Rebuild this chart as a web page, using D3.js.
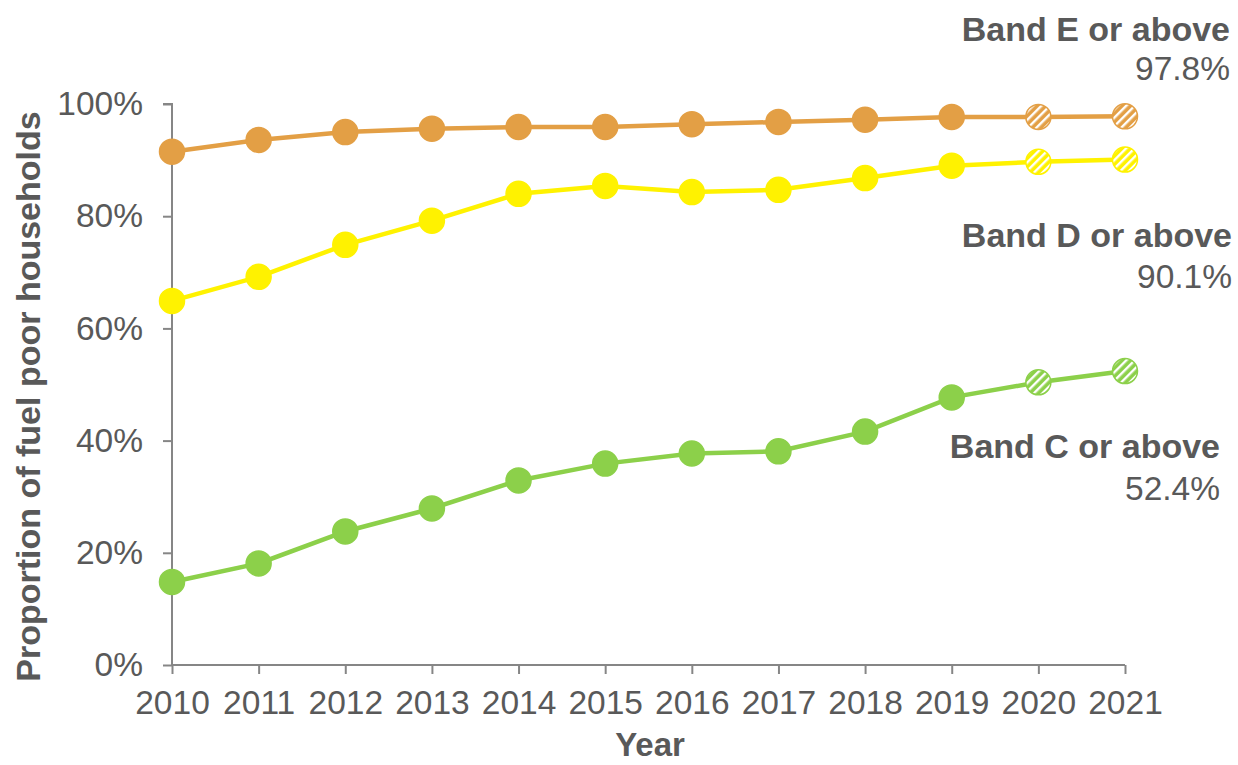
<!DOCTYPE html>
<html>
<head>
<meta charset="utf-8">
<script src="https://cdn.jsdelivr.net/npm/d3@7"></script>
<style>
  body { margin: 0; background: #fff; }
  svg { display: block; font-family: "Liberation Sans", Arial, sans-serif; }
</style>
</head>
<body>
<svg id="chart" width="1238" height="765"></svg>
<script>
const years = [2010, 2011, 2012, 2013, 2014, 2015, 2016, 2017, 2018, 2019, 2020, 2021];
const bandE = [91.5, 93.6, 95.0, 95.6, 95.9, 95.9, 96.4, 96.8, 97.2, 97.7, 97.7, 97.8];
const bandD = [64.9, 69.2, 74.9, 79.2, 84.0, 85.4, 84.3, 84.7, 86.8, 89.0, 89.7, 90.1];
const bandC = [14.8, 18.1, 23.8, 27.9, 32.9, 35.9, 37.7, 38.1, 41.6, 47.7, 50.4, 52.4];
const projectedYears = [2020, 2021];
const yTicks = [0, 20, 40, 60, 80, 100];
const seriesNames = ["Band E or above", "Band D or above", "Band C or above"];
const seriesLabels = ["97.8%", "90.1%", "52.4%"];

const colors = ["#E39F45", "#FFF200", "#8CD04A"];
const series = [bandE, bandD, bandC];

const svg = d3.select("#chart");
const margin = {left: 172, right: 113, top: 104, bottom: 100};
const W = 1238, H = 765;

const x = d3.scalePoint().domain(years).range([margin.left, W - margin.right]);
const y = d3.scaleLinear().domain([0, 100]).range([H - margin.bottom, margin.top]);

const textColor = "#595959";
const axisColor = "#868686";

// hatch patterns
const defs = svg.append("defs");
colors.forEach((c, i) => {
  const p = defs.append("pattern")
    .attr("id", "hatch" + i)
    .attr("patternUnits", "userSpaceOnUse")
    .attr("width", 6).attr("height", 6)
    .attr("patternTransform", "rotate(45)");
  p.append("rect").attr("width", 6).attr("height", 6).attr("fill", c);
  p.append("rect").attr("x", 0).attr("width", 2.4).attr("height", 6).attr("fill", "#fff");
});

// axes
const yAxis = svg.append("g")
  .attr("transform", `translate(${margin.left},0)`)
  .call(d3.axisLeft(y).tickValues(yTicks).tickFormat(d => d + "%").tickSize(9).tickPadding(20));
const xAxis = svg.append("g")
  .attr("transform", `translate(0,${H - margin.bottom})`)
  .call(d3.axisBottom(x).tickSize(9).tickPadding(16));

[yAxis, xAxis].forEach(g => {
  g.select(".domain").attr("stroke", axisColor).attr("stroke-width", 2);
  g.selectAll(".tick line").attr("stroke", axisColor).attr("stroke-width", 2);
  g.selectAll(".tick text").attr("fill", textColor).style("font-size", "33.5px")
    .style("font-family", "'Liberation Sans', Arial, sans-serif");
});
yAxis.select(".domain").attr("d", `M-9,${y(100)}H0V${y(0)}`);
xAxis.select(".domain").attr("d", `M${x(2010)},0H${x(2021)}`);
xAxis.selectAll(".tick text").attr("dy", "0.71em");

// axis titles
svg.append("text")
  .attr("transform", `translate(40,${(y(0) + y(100)) / 2 + 12}) rotate(-90)`)
  .attr("text-anchor", "middle")
  .attr("fill", textColor)
  .style("font-size", "34px").style("font-weight", "bold")
  .text("Proportion of fuel poor households");

svg.append("text")
  .attr("x", 650)
  .attr("y", 756)
  .attr("text-anchor", "middle")
  .attr("fill", textColor)
  .style("font-size", "33px").style("font-weight", "bold")
  .text("Year");

// lines and markers
const line = d3.line().x((d, i) => x(years[i])).y(d => y(d));
series.forEach((vals, si) => {
  svg.append("path")
    .datum(vals)
    .attr("d", line)
    .attr("fill", "none")
    .attr("stroke", colors[si])
    .attr("stroke-width", 4.5);
  svg.append("g").selectAll("circle")
    .data(vals)
    .join("circle")
    .attr("cx", (d, i) => x(years[i]))
    .attr("cy", d => y(d))
    .attr("r", 12.5)
    .attr("fill", (d, i) => projectedYears.includes(years[i]) ? `url(#hatch${si})` : colors[si])
    .attr("stroke", colors[si])
    .attr("stroke-width", 1.5);
});

// series labels
const labelPos = [
  {x: 1230, y1: 41, y2: 80},
  {x: 1232, y1: 247, y2: 288},
  {x: 1220, y1: 458, y2: 500}
];
seriesNames.forEach((name, i) => {
  const g = svg.append("g").attr("text-anchor", "end").attr("fill", textColor);
  g.append("text").attr("x", labelPos[i].x).attr("y", labelPos[i].y1)
    .style("font-size", "34px").style("font-weight", "bold").text(name);
  g.append("text").attr("x", labelPos[i].x).attr("y", labelPos[i].y2)
    .style("font-size", "33.5px").text(seriesLabels[i]);
});
</script>
</body>
</html>
